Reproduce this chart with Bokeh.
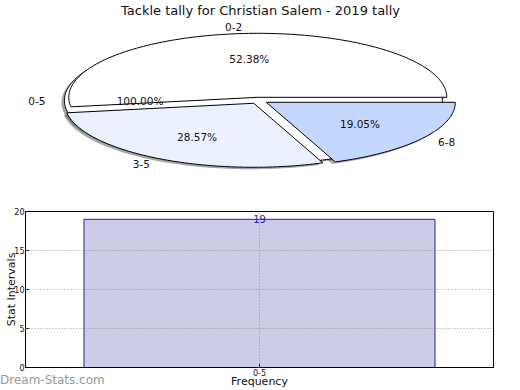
import numpy as np
from bokeh.plotting import figure
from bokeh.layouts import column
from bokeh.models import Range1d, FactorRange, FixedTicker, Div
from bokeh.embed import file_html
from bokeh.resources import INLINE
from bokeh.core.properties import value

# ---------------- data ----------------
chart_title = "Tackle tally for Christian Salem - 2019 tally"
pie_labels = ["0-2", "3-5", "6-8"]
pie_counts = [11, 6, 4]
pie_colors = ["#FFFFFF", "#EBF1FE", "#C4D7FE"]
total_labels = ["0-5"]
total_counts = [19]
total_colors = ["#FFFFFF"]
bar_categories = ["0-5"]
bar_values = [19]
y_ticks = [0, 5, 10, 15, 20]
watermark = "Dream-Stats.com"

# ---------------- style / layout ----------------
FONT = "DejaVu Sans"
W = 520
L_BORDER, R_BORDER = 25, 27
PIE_H, BAR_H = 190, 200
CX, CY = 258, 100          # pie centre (page px)
A, B = 189.0, 64.0         # ellipse semi-axes (px)
EXPLODES = [0.027, 0.05]   # total pie, split pie
SHADOW_DX, SHADOW_DY = -3.0, -2.0

pie = figure(width=W, height=PIE_H,
             x_range=Range1d(L_BORDER - CX, W - R_BORDER - CX),
             y_range=Range1d(CY - PIE_H, CY),
             output_backend="svg", toolbar_location=None,
             min_border_left=L_BORDER, min_border_right=R_BORDER,
             min_border_top=0, min_border_bottom=0)
pie.axis.visible = False
pie.grid.visible = False
pie.outline_line_color = None


def slices(counts):
    tot = float(sum(counts))
    fr = np.array(counts, dtype=float) / tot
    ends = np.cumsum(fr) * 2 * np.pi
    starts = ends - fr * 2 * np.pi
    return fr, starts, ends


def wedge(cx, cy, t0, t1, full=False):
    n = max(int((t1 - t0) * 40) + 2, 3)
    th = np.linspace(t0, t1, n)
    xs = cx + A * np.cos(th)
    ys = cy + B * np.sin(th)
    if full:
        return list(xs), list(ys)
    return [cx] + list(xs) + [cx], [cy] + list(ys) + [cy]


shapes = []  # (xs, ys, color)
txt = []     # (x, y, text, align)
for (counts, labels, colors), ex in zip([(total_counts, total_labels, total_colors),
                                         (pie_counts, pie_labels, pie_colors)], EXPLODES):
    fr, st, en = slices(counts)
    for f, s, e, lab, col in zip(fr, st, en, labels, colors):
        mid = (s + e) / 2
        cx = ex * A * np.cos(mid)
        cy = ex * B * np.sin(mid)
        full = f >= 0.9999
        xs, ys = wedge(cx, cy, s, e, full)
        shapes.append((xs, ys, col))
        txt.append((cx + 0.6 * A * np.cos(mid), cy + 0.6 * B * np.sin(mid), "%.2f%%" % (f * 100), "center"))
        lx = cx + 1.1 * A * np.cos(mid)
        ly = cy + 1.1 * B * np.sin(mid)
        txt.append((lx, ly, lab, "right" if np.cos(mid) < 0 else "left"))

# shadows
pie.patches(xs=[[x + SHADOW_DX for x in s[0]] for s in shapes],
            ys=[[y + SHADOW_DY for y in s[1]] for s in shapes],
            fill_color="#4D4D4D", fill_alpha=0.5, line_color=None)
for xs, ys, col in shapes:
    pie.patch(xs, ys, fill_color=col, line_color="black", line_width=1)

for al in ["center", "left", "right"]:
    sel = [t for t in txt if t[3] == al]
    if sel:
        pie.text(x=[t[0] for t in sel], y=[t[1] for t in sel], text=[t[2] for t in sel],
                 text_align=al, text_baseline="middle", text_font=value(FONT),
                 text_font_size="10.5px", text_color="#111111")

pie.text(x=[2], y=[CY - 10], text=[chart_title], text_align="center", text_baseline="middle",
         text_font=value(FONT), text_font_size="13px", text_color="#111111")

# ---------------- bar ----------------
bar = figure(width=W, height=BAR_H, x_range=FactorRange(*bar_categories), y_range=Range1d(0, 20),
             output_backend="svg", toolbar_location=None,
             min_border_top=21, min_border_right=R_BORDER, min_border_left=L_BORDER,
             min_border_bottom=21)
bar.vbar(x=bar_categories, top=bar_values, width=0.75, fill_color="#CCCCE6",
         line_color="#1F1F99", line_width=1)
bar.text(x=bar_categories, y=bar_values, text=[str(v) for v in bar_values], text_align="center",
         text_baseline="alphabetic", text_font=value(FONT), text_font_size="10px",
         text_color="#2222AA")
bar.outline_line_color = "black"
bar.outline_line_alpha = 1
bar.yaxis.ticker = FixedTicker(ticks=y_ticks)
bar.yaxis.axis_label = "Stat Intervals"
bar.xaxis.axis_label = "Frequency"
for ax in [bar.xaxis[0], bar.yaxis[0]]:
    ax.major_tick_in = 4
    ax.major_tick_out = 0
    ax.minor_tick_in = 0
    ax.minor_tick_out = 0
    ax.major_label_text_font = FONT
    ax.major_label_text_font_size = "8px"
    ax.major_label_text_color = "#111111"
    ax.axis_label_text_font = FONT
    ax.axis_label_text_font_size = "11px"
    ax.axis_label_text_font_style = "normal"
    ax.axis_label_text_color = "#111111"
    ax.axis_line_color = "black"
bar.yaxis.major_label_standoff = 1
bar.yaxis.axis_label_standoff = -7
bar.xaxis.major_label_standoff = 1
bar.xaxis.axis_label_standoff = -4

bar.grid.grid_line_color = "#999999"
bar.grid.grid_line_dash = "1 2"
bar.grid.level = "overlay"

mark = Div(text=watermark, width=110, height=17, margin=(-17, 0, 0, 0),
           styles={"font-family": FONT, "font-size": "12px", "color": "#999999",
                   "position": "relative", "z-index": "10", "line-height": "14px"})

layout = column(pie, bar, mark, spacing=0)
open("out.html", "w").write(file_html(layout, INLINE))
